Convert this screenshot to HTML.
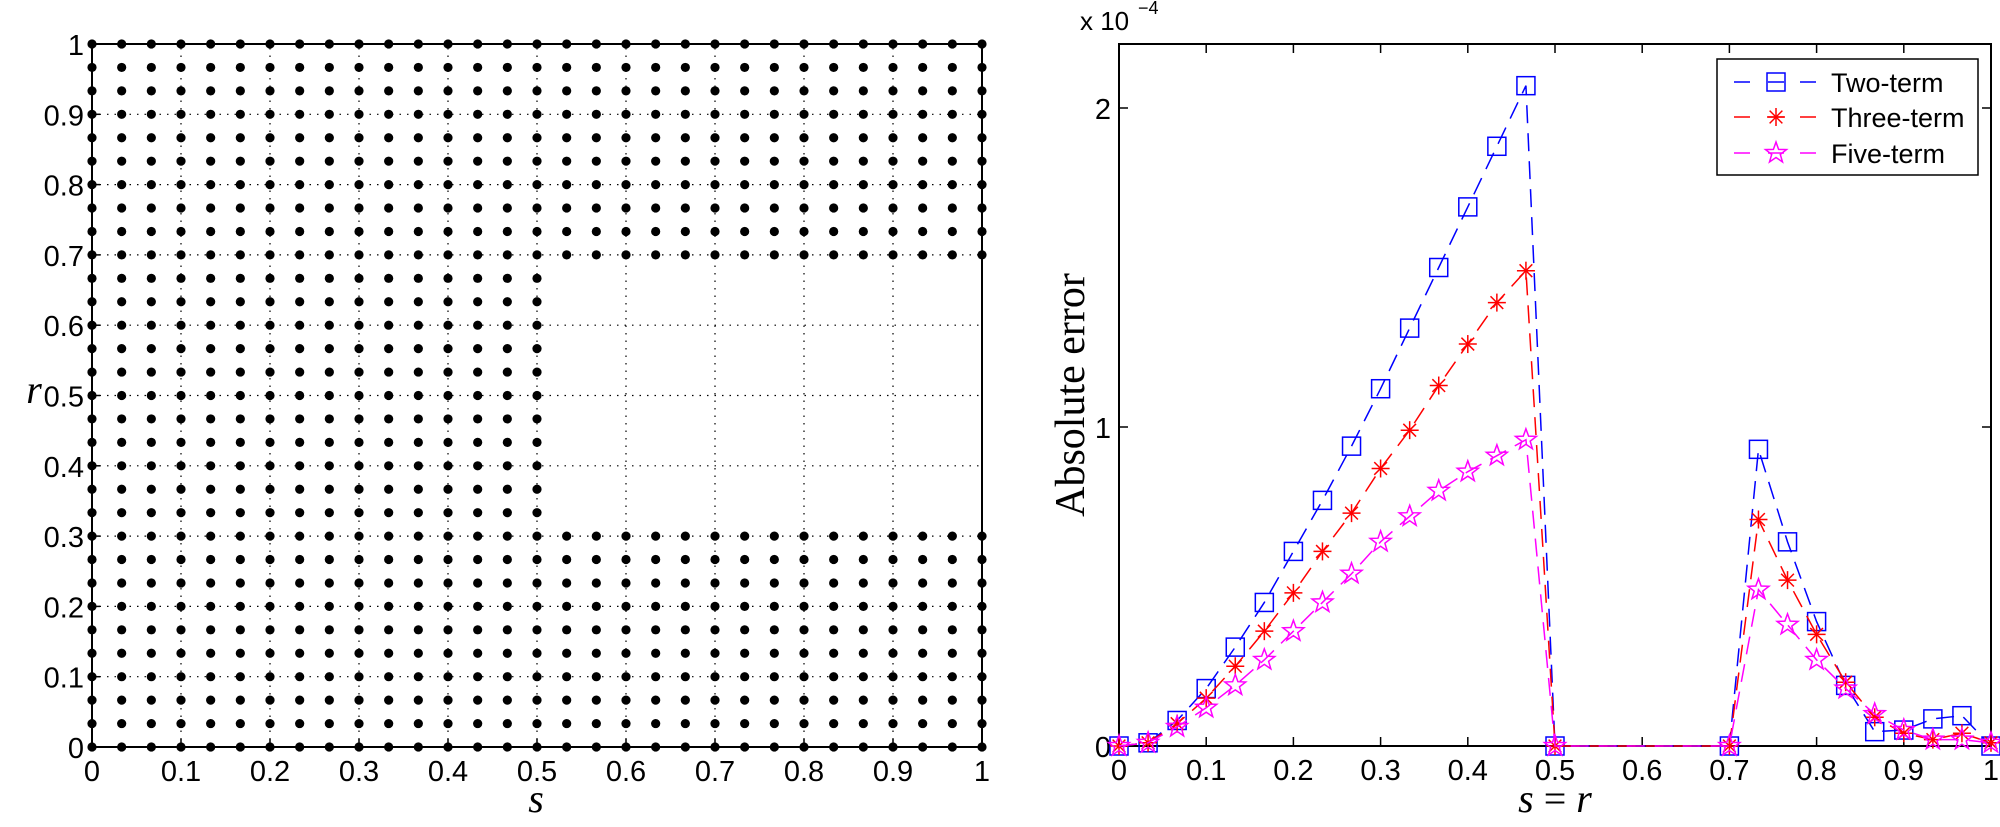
<!DOCTYPE html>
<html><head><meta charset="utf-8"><style>
html,body{margin:0;padding:0;background:#fff;}
svg{display:block;}
text{font-family:"Liberation Sans",sans-serif;}
text.serif{font-family:"Liberation Serif",serif;}
</style></head><body>
<svg id="s" width="2000" height="827" xmlns="http://www.w3.org/2000/svg"></svg>
<script>
const S=document.getElementById('s');let h='';
// LEFT
const LX0=92,LX1=982,LY0=747,LY1=44;
const lx=v=>LX0+v*(LX1-LX0), ly=v=>LY0-v*(LY0-LY1);
for(let i=1;i<10;i++){
 h+=`<line x1="${lx(i/10)}" y1="${LY0}" x2="${lx(i/10)}" y2="${LY1}" stroke="#000" stroke-width="1.2" stroke-dasharray="1.5,6"/>`;
 h+=`<line x1="${LX0}" y1="${ly(i/10)}" x2="${LX1}" y2="${ly(i/10)}" stroke="#000" stroke-width="1.2" stroke-dasharray="1.5,6"/>`;
}
h+=`<rect x="${LX0}" y="${LY1}" width="${LX1-LX0}" height="${LY0-LY1}" fill="none" stroke="#000" stroke-width="2"/>`;
for(let i=0;i<=10;i++){
 const v=i/10,l=i==0?'0':i==10?'1':'0.'+i;
 h+=`<line x1="${lx(v)}" y1="${LY0}" x2="${lx(v)}" y2="${LY0-8}" stroke="#000" stroke-width="1.5"/>`;
 h+=`<line x1="${LX0}" y1="${ly(v)}" x2="${LX0+8}" y2="${ly(v)}" stroke="#000" stroke-width="1.5"/>`;
 h+=`<text x="${lx(v)}" y="${LY0+34}" font-size="29" text-anchor="middle">${l}</text>`;
 h+=`<text x="${LX0-8}" y="${ly(v)+11}" font-size="29" text-anchor="end">${l}</text>`;
}
for(let i=0;i<=30;i++)for(let j=0;j<=30;j++){
 if(i>15&&j>9&&j<21)continue;
 h+=`<circle cx="${lx(i/30)}" cy="${ly(j/30)}" r="4.6" fill="#000"/>`;
}
h+=`<text class="serif" x="536" y="812" font-size="40" font-style="italic" text-anchor="middle">s</text>`;
h+=`<text class="serif" x="34" y="403" font-size="40" font-style="italic" text-anchor="middle">r</text>`;
// RIGHT
const RX0=1119,RX1=1991,RY0=746,RY1=44;
const rx=v=>RX0+v*(RX1-RX0), ry=v=>RY0-v*319;
h+=`<rect x="${RX0}" y="${RY1}" width="${RX1-RX0}" height="${RY0-RY1}" fill="none" stroke="#000" stroke-width="2"/>`;
for(let i=0;i<=10;i++){
 const v=i/10,l=i==0?'0':i==10?'1':'0.'+i;
 h+=`<line x1="${rx(v)}" y1="${RY0}" x2="${rx(v)}" y2="${RY0-9}" stroke="#000" stroke-width="1.5"/>`;
 h+=`<line x1="${rx(v)}" y1="${RY1}" x2="${rx(v)}" y2="${RY1+9}" stroke="#000" stroke-width="1.5"/>`;
 h+=`<text x="${rx(v)}" y="${RY0+34}" font-size="29" text-anchor="middle">${l}</text>`;
}
for(let k=0;k<=2;k++){
 h+=`<line x1="${RX0}" y1="${ry(k)}" x2="${RX0+9}" y2="${ry(k)}" stroke="#000" stroke-width="1.5"/>`;
 h+=`<line x1="${RX1}" y1="${ry(k)}" x2="${RX1-9}" y2="${ry(k)}" stroke="#000" stroke-width="1.5"/>`;
 h+=`<text x="${RX0-8}" y="${ry(k)+11}" font-size="29" text-anchor="end">${k}</text>`;
}
h+=`<text x="1080" y="30" font-size="26">x 10</text><text x="1138" y="14" font-size="18">−4</text>`;
h+=`<text class="serif" transform="translate(1084,395) rotate(-90)" font-size="42" text-anchor="middle">Absolute error</text>`;
h+=`<text class="serif" x="1555" y="812" font-size="40" text-anchor="middle"><tspan font-style="italic">s</tspan> = <tspan font-style="italic">r</tspan></text>`;
const two=[0,0.01,0.08,0.18,0.31,0.45,0.61,0.77,0.94,1.12,1.31,1.50,1.69,1.88,2.07,0,null,null,null,null,null,0,0.93,0.64,0.39,0.19,0.045,0.05,0.085,0.095,0];
const thr=[0,0.01,0.07,0.15,0.25,0.36,0.48,0.61,0.73,0.87,0.99,1.13,1.26,1.39,1.49,0,null,null,null,null,null,0,0.71,0.52,0.35,0.20,0.09,0.04,0.02,0.04,0.01];
const fiv=[0,0.01,0.06,0.12,0.19,0.27,0.36,0.45,0.54,0.64,0.72,0.80,0.86,0.91,0.96,0,null,null,null,null,null,0,0.49,0.38,0.27,0.18,0.10,0.05,0.02,0.02,0.01];
function pts(d){let p=[];d.forEach((v,k)=>{if(v!==null)p.push([rx(k/30),ry(v)]);});return p;}
function sq(x,y,c){return `<rect x="${x-9}" y="${y-9}" width="18" height="18" fill="none" stroke="${c}" stroke-width="1.5"/>`;}
function ast(x,y,c){let s='';for(let a=0;a<4;a++){const t=a*Math.PI/4,dx=9*Math.cos(t),dy=9*Math.sin(t);s+=`<line x1="${x-dx}" y1="${y-dy}" x2="${x+dx}" y2="${y+dy}" stroke="${c}" stroke-width="1.5"/>`;}return s;}
function star(x,y,c){let p=[];for(let i=0;i<10;i++){const r=i%2?4.5:11,t=-Math.PI/2+i*Math.PI/5;p.push((x+r*Math.cos(t)).toFixed(1)+','+(y+r*Math.sin(t)).toFixed(1));}return `<polygon points="${p.join(' ')}" fill="none" stroke="${c}" stroke-width="1.5"/>`;}
[[two,'#0000ff',sq],[thr,'#ff0000',ast],[fiv,'#ff00ff',star]].forEach(([d,c,m])=>{
 const p=pts(d);
 h+=`<polyline points="${p.map(q=>q.join(',')).join(' ')}" fill="none" stroke="${c}" stroke-width="1.5" stroke-dasharray="18,10"/>`;
 p.forEach(q=>h+=m(q[0],q[1],c));
});
// legend
h+=`<rect x="1717" y="59" width="261" height="116" fill="#fff" stroke="#000" stroke-width="1.5"/>`;
[['Two-term','#0000ff',sq,82],['Three-term','#ff0000',ast,117],['Five-term','#ff00ff',star,153]].forEach(([t,c,m,y])=>{
 h+=`<line x1="1734" y1="${y}" x2="1750" y2="${y}" stroke="${c}" stroke-width="1.5"/><line x1="1800" y1="${y}" x2="1816" y2="${y}" stroke="${c}" stroke-width="1.5"/>`;
 h+=`<line x1="1768" y1="${y}" x2="1784" y2="${y}" stroke="${c}" stroke-width="1.5"/>`;
 h+=m(1776,y,c);
 h+=`<text x="1831" y="${y+10}" font-size="27">${t}</text>`;
});
S.innerHTML=h;
</script>
</body></html>
